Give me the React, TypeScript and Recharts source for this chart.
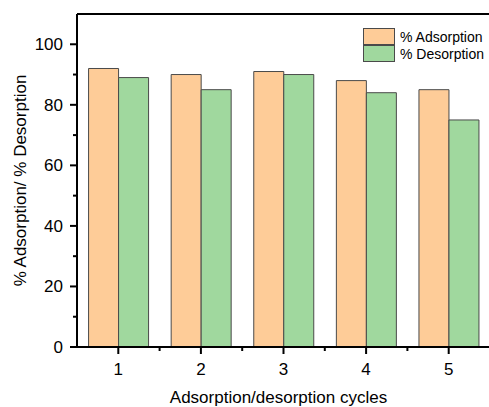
import React from 'react';
import { BarChart, Bar, XAxis, YAxis, Legend, ReferenceLine } from 'recharts';

const cycles = ['1', '2', '3', '4', '5'];
const adsorption = [92, 90, 91, 88, 85];
const desorption = [89, 85, 90, 84, 75];
const yTicks = [0, 10, 20, 30, 40, 50, 60, 70, 80, 90, 100];
const yLabelTicks = [0, 20, 40, 60, 80, 100];

const data = cycles.map((c, i) => ({ cycle: c, ads: adsorption[i], des: desorption[i] }));

const FONT = '"Liberation Sans", Arial, sans-serif';
const ORANGE = '#FECC98';
const GREEN = '#A0D89E';
const EDGE = '#4a4a4a';

const YTick = (props: any) => {
  const { x, y, payload } = props;
  const v = payload.value;
  const major = yLabelTicks.includes(v);
  return (
    <g>
      <line x1={major ? x : x + 3} x2={x + 7} y1={y} y2={y} stroke="#000" strokeWidth={2} />
      {major && (
        <text x={x - 7} y={y + 6} textAnchor="end" fontSize={17} fontFamily={FONT} fill="#000">
          {v}
        </text>
      )}
    </g>
  );
};

const XTick = (props: any) => {
  const { x, y, payload, index, width, visibleTicksCount } = props;
  const band = width && visibleTicksCount ? width / visibleTicksCount : 0;
  return (
    <g>
      <line x1={x} x2={x} y1={y - 7} y2={y} stroke="#000" strokeWidth={2} />
      {band > 0 && index < visibleTicksCount - 1 && (
        <line x1={x + band / 2} x2={x + band / 2} y1={y - 7} y2={y - 3} stroke="#000" strokeWidth={2} />
      )}
      <text x={x} y={y + 21} textAnchor="middle" fontSize={17} fontFamily={FONT} fill="#000">
        {payload.value}
      </text>
    </g>
  );
};

const YTitle = (props: any) => {
  const vb = props.viewBox || {};
  const cy = (vb.y || 0) + (vb.height || 0) / 2;
  const cx = 26;
  return (
    <text
      x={cx}
      y={cy}
      transform={`rotate(-90, ${cx}, ${cy})`}
      textAnchor="middle"
      fontSize={17}
      fontFamily={FONT}
      fill="#000"
    >
      % Adsorption/ % Desorption
    </text>
  );
};

const XTitle = (props: any) => {
  const vb = props.viewBox || {};
  const cx = (vb.x || 0) + (vb.width || 0) / 2 - 5;
  const by = (vb.y || 0) + 56;
  return (
    <text x={cx} y={by} textAnchor="middle" fontSize={17} fontFamily={FONT} fill="#000">
      Adsorption/desorption cycles
    </text>
  );
};

const LegendContent = () => {
  const items = [
    { label: '% Adsorption', color: ORANGE },
    { label: '% Desorption', color: GREEN },
  ];
  return (
    <div style={{ fontFamily: FONT, fontSize: 14, color: '#000' }}>
      {items.map((it) => (
        <div key={it.label} style={{ display: 'flex', alignItems: 'center', height: 17 }}>
          <div
            style={{
              width: 30,
              height: 15,
              background: it.color,
              border: `1px solid ${EDGE}`,
              marginRight: 5,
            }}
          />
          <span>{it.label}</span>
        </div>
      ))}
    </div>
  );
};

export default function App() {
  return (
    <div style={{ position: 'absolute', left: 0, top: 0, width: 489, height: 407, overflow: 'hidden', background: '#fff' }}>
      <BarChart
        width={490}
        height={407}
        data={data}
        margin={{ top: 14, right: 0, left: 0, bottom: 0 }}
        barCategoryGap="14%"
        barGap={0}
      >
        <XAxis
          dataKey="cycle"
          height={60}
          tickLine={false}
          tickSize={7}
          tickMargin={0}
          axisLine={{ stroke: '#000', strokeWidth: 2 }}
          tick={<XTick />}
          label={<XTitle />}
          interval={0}
        />
        <YAxis
          width={77}
          domain={[0, 110]}
          ticks={yTicks}
          interval={0}
          tickLine={false}
          tickSize={7}
          tickMargin={0}
          axisLine={{ stroke: '#000', strokeWidth: 2 }}
          tick={<YTick />}
          label={<YTitle />}
        />
        <ReferenceLine y={110} stroke="#000" strokeWidth={2} />
        <Legend
          layout="vertical"
          align="center"
          verticalAlign="middle"
          content={<LegendContent />}
          wrapperStyle={{ left: 363, top: 28, width: 130, height: 36 }}
        />
        <Bar dataKey="ads" name="% Adsorption" fill={ORANGE} stroke={EDGE} strokeWidth={1} isAnimationActive={false} />
        <Bar dataKey="des" name="% Desorption" fill={GREEN} stroke={EDGE} strokeWidth={1} isAnimationActive={false} />
      </BarChart>
    </div>
  );
}
